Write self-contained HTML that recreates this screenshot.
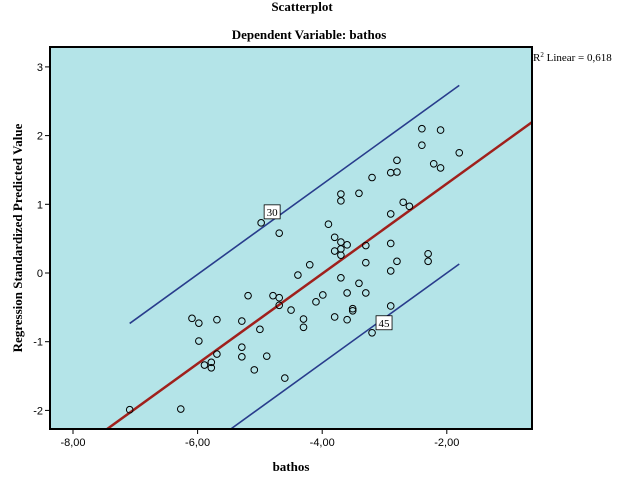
<!DOCTYPE html>
<html><head><meta charset="utf-8"><style>
body{margin:0;background:#fff;font-family:"Liberation Serif",serif}
svg text{font-family:"Liberation Serif",serif}
svg text.tick{font-family:"Liberation Sans",sans-serif}
</style></head><body>
<svg id="c" width="644" height="496" xmlns="http://www.w3.org/2000/svg">
<text x="302" y="11" text-anchor="middle" font-size="13" font-weight="bold">Scatterplot</text>
<text x="309" y="39" text-anchor="middle" font-size="13" font-weight="bold">Dependent Variable: bathos</text>
<rect x="50" y="47" width="482" height="382" fill="#b4e4e8"/>
<g id="marks"></g>
<rect x="50" y="47" width="482" height="382" fill="none" stroke="#000" stroke-width="2"/>
<text x="533" y="61" font-size="11">R<tspan font-size="7" dy="-4">2</tspan><tspan dy="4"> Linear = 0,618</tspan></text>
<text transform="translate(22,238) rotate(-90)" text-anchor="middle" font-size="13" font-weight="bold">Regression Standardized Predicted Value</text>
<text x="291" y="471" text-anchor="middle" font-size="13" font-weight="bold">bathos</text>
</svg>
<script>
const xTicks=[-8,-6,-4,-2];
const xTickLabels=["-8,00","-6,00","-4,00","-2,00"];
const yTicks=[-2,-1,0,1,2,3];
const xs=[-7.09,-6.27,-4.98,-4.69,-5.19,-4.79,-4.69,-4.69,-6.09,-5.98,-5.69,-5.29,-5.00,-5.98,-5.29,-5.29,-4.89,-5.69,-5.89,-5.78,-5.78,-5.09,-4.60,-4.50,-4.39,-4.20,-4.10,-3.99,-4.30,-4.30,-3.90,-3.80,-3.70,-3.60,-3.70,-3.80,-3.70,-3.70,-3.70,-3.41,-3.70,-3.60,-3.51,-3.80,-3.60,-3.41,-2.40,-2.10,-2.40,-1.80,-2.21,-2.10,-2.80,-2.90,-2.80,-3.20,-2.70,-2.60,-2.90,-3.30,-2.90,-2.30,-2.30,-2.80,-3.30,-2.90,-3.30,-2.90,-3.20,-3.51];
const ys=[-1.99,-1.98,0.73,0.58,-0.33,-0.33,-0.36,-0.47,-0.66,-0.73,-0.68,-0.70,-0.82,-0.99,-1.08,-1.22,-1.21,-1.18,-1.34,-1.30,-1.38,-1.41,-1.53,-0.54,-0.03,0.12,-0.42,-0.32,-0.67,-0.79,0.71,0.52,0.45,0.41,0.35,0.32,0.26,1.15,1.05,1.16,-0.07,-0.29,-0.52,-0.64,-0.68,-0.15,2.10,2.08,1.86,1.75,1.59,1.53,1.64,1.46,1.47,1.39,1.03,0.97,0.86,0.40,0.43,0.28,0.17,0.17,0.15,0.03,-0.29,-0.48,-0.87,-0.55];
const fitSlope=0.655, fitIntercept=2.61, bandOffset=1.3;
const bandRange=[-7.09,-1.80];
const pointLabels=[{text:"30",x:-4.98,y:0.73,dx:11,dy:-11},{text:"45",x:-3.20,y:-0.87,dx:12,dy:-10}];
const X=v=>73+(v+8)*62.3, Y=v=>273-v*68.7;
const NS="http://www.w3.org/2000/svg", svg=document.getElementById('c'), g=document.getElementById('marks');
function mk(t,a,p){const e=document.createElementNS(NS,t);for(const k in a)e.setAttribute(k,a[k]);(p||g).appendChild(e);return e;}
const cp=mk('clipPath',{id:'clip'},svg);mk('rect',{x:50,y:47,width:482,height:382},cp);
xTicks.forEach((t,i)=>{const l=mk('line',{x1:X(t),x2:X(t),y1:429,y2:434,stroke:'#000'},svg);


const tx=mk('text',{x:X(t),y:446,'text-anchor':'middle','font-size':11,'class':'tick'},svg);tx.textContent=xTickLabels[i];

});
yTicks.forEach(t=>{const l=mk('line',{x1:45,x2:50,y1:Y(t),y2:Y(t),stroke:'#000'},svg);


const tx=mk('text',{x:43,y:Y(t)+4,'text-anchor':'end','font-size':11,'class':'tick'},svg);tx.textContent=String(t);

});
const fx1=-8.5,fx2=-0.5;
const fit=mk('line',{x1:X(fx1),y1:Y(fitSlope*fx1+fitIntercept),x2:X(fx2),y2:Y(fitSlope*fx2+fitIntercept),stroke:'#a0201c','stroke-width':2.5,'clip-path':'url(#clip)'});


[bandOffset,-bandOffset].forEach((o,i)=>{const [a,b]=bandRange;
const l=mk('line',{x1:X(a),y1:Y(fitSlope*a+fitIntercept+o),x2:X(b),y2:Y(fitSlope*b+fitIntercept+o),stroke:'#283c8c','stroke-width':1.6,'clip-path':'url(#clip)'});

});
xs.forEach((x,i)=>{const c=mk('circle',{cx:X(x),cy:Y(ys[i]),r:3.3,fill:'none',stroke:'#000','stroke-width':1});

});
pointLabels.forEach(p=>{const cx=X(p.x)+p.dx,cy=Y(p.y)+p.dy;
const r=mk('rect',{x:cx-8,y:cy-7,width:16,height:14,fill:'#fff',stroke:'#000','stroke-width':0.8});


const t=mk('text',{x:cx,y:cy+4,'text-anchor':'middle','font-size':11,'font-family':'Liberation Sans, sans-serif'});t.textContent=p.text;

});
</script>
</body></html>
